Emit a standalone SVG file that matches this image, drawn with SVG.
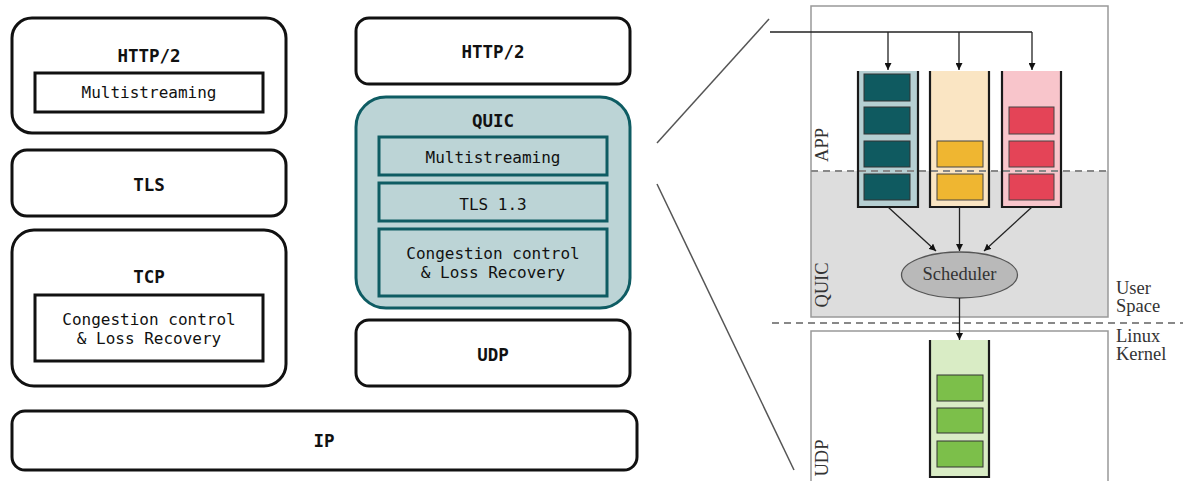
<svg xmlns="http://www.w3.org/2000/svg" width="1183" height="481" viewBox="0 0 1183 481">
<style>
.box{fill:#fff;stroke:#111;stroke-width:3}
.inner{fill:#fff;stroke:#111;stroke-width:3}
.qbox{fill:#bcd4d6;stroke:#0e5c63;stroke-width:3}
.title{font-family:"DejaVu Sans Mono",monospace;font-weight:bold;font-size:17.5px;fill:#111;text-anchor:middle}
.mono{font-family:"DejaVu Sans Mono",monospace;font-size:16px;fill:#111;text-anchor:middle}
.serif{font-family:"Liberation Serif","DejaVu Serif",serif;font-size:18.5px;fill:#333}
.frame{fill:none;stroke:#999;stroke-width:1.5}
.edge{fill:none;stroke:#222;stroke-width:1.3}
.side{fill:none;stroke:#1a1a1a;stroke-width:2.2}
.zoom{stroke:#555;stroke-width:1.5}
.teal{fill:#0f5a60;stroke:#333;stroke-width:1}
.yel{fill:#efb631;stroke:#444;stroke-width:1}
.red{fill:#e44457;stroke:#444;stroke-width:1}
.grn{fill:#7cbf4a;stroke:#333;stroke-width:1}
</style>
<defs>
<marker id="ah" viewBox="0 0 10 10" refX="10" refY="5" markerWidth="7" markerHeight="7" markerUnits="userSpaceOnUse" orient="auto">
<path d="M0,0 L10,5 L0,10 z" fill="#111"/>
</marker>
</defs>

<!-- Left stack -->
<g id="http2-left">
<rect class="box" x="12" y="18" width="274" height="115" rx="20"/>
<text class="title" x="149" y="62">HTTP/2</text>
<rect class="inner" x="35" y="73" width="228" height="39"/>
<text class="mono" x="149" y="98">Multistreaming</text>
</g>
<g id="tls-left">
<rect class="box" x="12" y="150" width="274" height="66" rx="15"/>
<text class="title" x="149" y="191">TLS</text>
</g>
<g id="tcp">
<rect class="box" x="12" y="230" width="274" height="156" rx="22"/>
<text class="title" x="149" y="283">TCP</text>
<rect class="inner" x="35" y="295" width="228" height="66"/>
<text class="mono" x="149" y="325">Congestion control</text>
<text class="mono" x="149" y="344">&amp; Loss Recovery</text>
</g>
<g id="http2-right">
<rect class="box" x="356" y="18" width="274" height="66" rx="13"/>
<text class="title" x="493" y="58">HTTP/2</text>
</g>
<g id="quic">
<rect class="qbox" x="356" y="97" width="274" height="211" rx="30"/>
<text class="title" x="493" y="127">QUIC</text>
<rect class="qbox" x="379" y="137" width="228" height="38"/>
<text class="mono" x="493" y="163">Multistreaming</text>
<rect class="qbox" x="379" y="183" width="228" height="38"/>
<text class="mono" x="493" y="210">TLS 1.3</text>
<rect class="qbox" x="379" y="229" width="228" height="67"/>
<text class="mono" x="493" y="259">Congestion control</text>
<text class="mono" x="493" y="278">&amp; Loss Recovery</text>
</g>
<g id="udp">
<rect class="box" x="356" y="320" width="274" height="66" rx="13"/>
<text class="title" x="493" y="361">UDP</text>
</g>
<g id="ip">
<rect class="box" x="12" y="411" width="625" height="59" rx="13"/>
<text class="title" x="324" y="447">IP</text>
</g>

<!-- Right panel -->
<g id="zoom-lines">
<line class="zoom" x1="657" y1="143" x2="769" y2="19"/>
<line class="zoom" x1="657" y1="184" x2="794" y2="470"/>
</g>
<g id="panel">
<rect x="811" y="171" width="297" height="146" fill="#dddddd"/>
<rect class="frame" x="811" y="6" width="297" height="311"/>
<path class="frame" d="M811,482 V331 H1108 V482"/>
<line x1="772" y1="323" x2="1183" y2="323" stroke="#888" stroke-width="2" stroke-dasharray="7 5"/>
<text class="serif" transform="translate(828 145) rotate(-90)" text-anchor="middle">APP</text>
<text class="serif" transform="translate(828 285) rotate(-90)" text-anchor="middle">QUIC</text>
<text class="serif" transform="translate(828 458) rotate(-90)" text-anchor="middle">UDP</text>
<text class="serif" x="1116" y="294">User</text>
<text class="serif" x="1116" y="312">Space</text>
<text class="serif" x="1116" y="342">Linux</text>
<text class="serif" x="1116" y="360">Kernel</text>
</g>
<g id="queue-teal">
<rect x="858" y="71" width="60" height="136" fill="#b6cfd2"/>
</g>
<g id="queue-yellow">
<rect x="930" y="71" width="59" height="136" fill="#fae5c3"/>
</g>
<g id="queue-red">
<rect x="1002" y="71" width="59" height="136" fill="#f8c5cb"/>
</g>
<line x1="811" y1="171" x2="1108" y2="171" stroke="#888" stroke-width="2" stroke-dasharray="7 5"/>
<g id="queue-teal-items">
<rect class="teal" x="864" y="74" width="46" height="27"/>
<rect class="teal" x="864" y="107" width="46" height="27"/>
<rect class="teal" x="864" y="141" width="46" height="26"/>
<rect class="teal" x="864" y="174" width="46" height="26"/>
<path class="side" d="M858,71 V207 H918 V71"/>
</g>
<g id="queue-yellow-items">
<rect class="yel" x="937" y="141" width="46" height="26"/>
<rect class="yel" x="937" y="174" width="46" height="26"/>
<path class="side" d="M930,71 V207 H989 V71"/>
</g>
<g id="queue-red-items">
<rect class="red" x="1009" y="107" width="45" height="27"/>
<rect class="red" x="1009" y="141" width="45" height="26"/>
<rect class="red" x="1009" y="174" width="45" height="26"/>
<path class="side" d="M1002,71 V207 H1061 V71"/>
</g>
<g id="scheduler">
<ellipse cx="959.5" cy="275" rx="58" ry="23" fill="#b9b9b9" stroke="#555" stroke-width="1.3"/>
<text class="serif" x="959.5" y="280" text-anchor="middle" font-size="17.5">Scheduler</text>
</g>
<g id="queue-udp">
<rect x="930" y="340" width="59" height="137" fill="#d9ecc5"/>
<rect class="grn" x="937" y="375" width="46" height="26"/>
<rect class="grn" x="937" y="408" width="46" height="25"/>
<rect class="grn" x="937" y="441" width="46" height="26"/>
<path class="side" d="M930,340 V477 H989 V340"/>
</g>
<g id="connectors">
<path class="edge" d="M770,32 H1032"/>
<line class="edge" x1="888" y1="32" x2="888" y2="70" marker-end="url(#ah)"/>
<line class="edge" x1="959" y1="32" x2="959" y2="70" marker-end="url(#ah)"/>
<line class="edge" x1="1032" y1="32" x2="1032" y2="70" marker-end="url(#ah)"/>
<line class="edge" x1="888" y1="207" x2="936" y2="251" marker-end="url(#ah)"/>
<line class="edge" x1="959.5" y1="207" x2="959.5" y2="251" marker-end="url(#ah)"/>
<line class="edge" x1="1032" y1="207" x2="984" y2="251" marker-end="url(#ah)"/>
<line class="edge" x1="959.5" y1="298" x2="959.5" y2="340" marker-end="url(#ah)"/>
</g>
</svg>
